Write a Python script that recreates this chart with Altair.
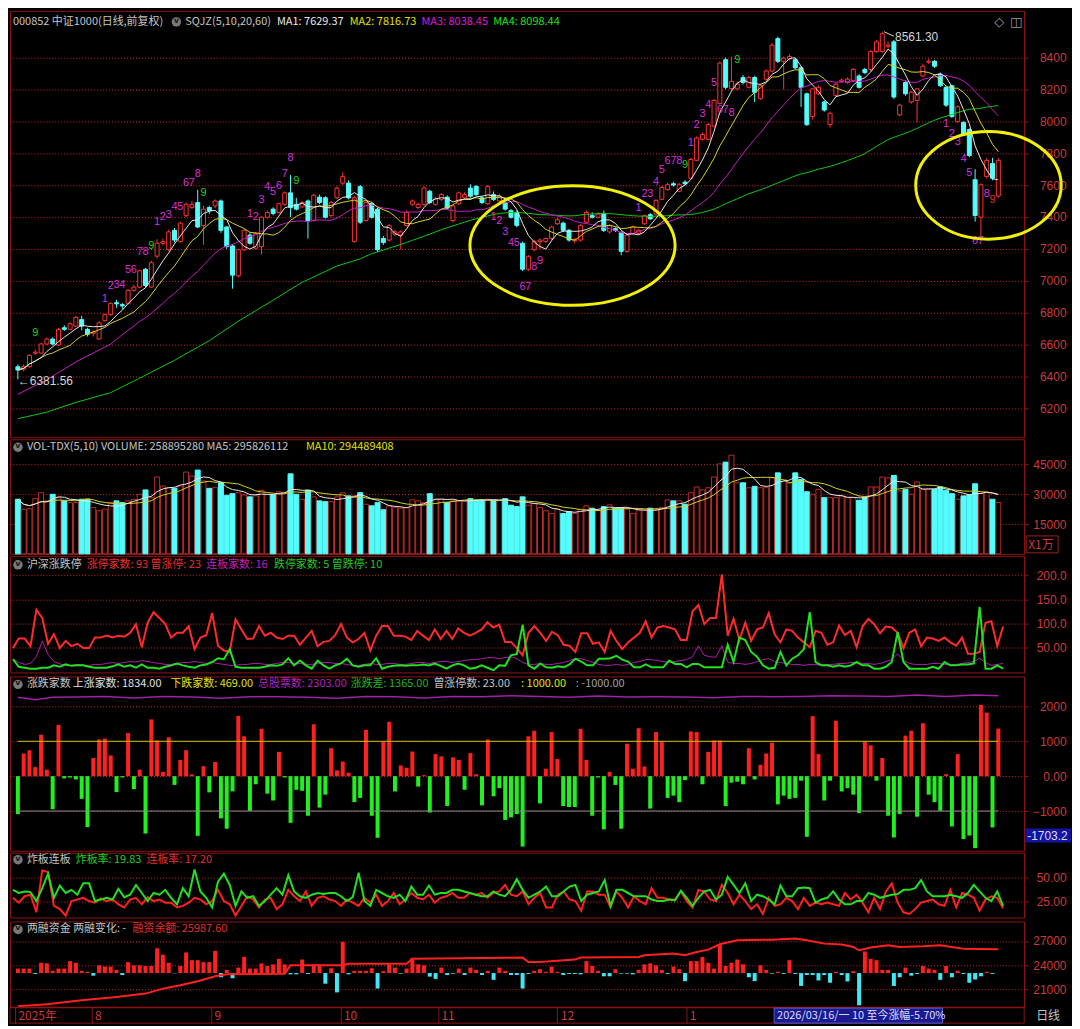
import altair as alt
import pandas as pd

# ---------------- 000852 中证1000 daily candles ----------------
opens = [
    6460,6445,6461,6545,6546,6603,6634,6597,6705,6695,
    6715,6756,6695,6670,6634,6750,6787,6862,6850,6858,
    6940,6960,7072,6960,7154,7235,7194,7316,7245,7408,
    7460,7490,7347,7459,7469,7500,7337,7218,7031,7194,
    7286,7204,7214,7398,7449,7428,7479,7551,7479,7463,
    7500,7377,7524,7520,7408,7520,7612,7612,7245,7590,
    7377,7485,7449,7265,7255,7292,7286,7347,7479,7459,
    7479,7561,7479,7510,7524,7377,7483,7520,7581,7591,
    7520,7483,7540,7500,7490,7439,7428,7235,7072,7194,
    7245,7245,7265,7357,7361,7316,7250,7255,7367,7408,
    7398,7422,7306,7326,7300,7184,7296,7296,7357,7414,
    7418,7510,7571,7608,7561,7618,7642,7755,7887,7887,
    7969,8111,8386,8205,8203,8274,8213,8274,8142,8264,
    8315,8518,8376,8390,8386,8335,8172,8030,8172,8121,
    7979,8162,8250,8243,8254,8284,8325,8325,8437,8437,
    8470,8498,8040,8243,8121,8131,8284,8370,8376,8294,
    8213,8223,7999,7993,7948,7633,7399,7653,7735,7531]
highs = [
    6475,6475,6540,6570,6610,6645,6645,6705,6720,6740,
    6780,6780,6705,6690,6745,6795,6865,6880,6860,6945,
    6975,7070,7080,7125,7260,7265,7320,7330,7370,7490,
    7500,7570,7470,7470,7510,7510,7340,7230,7200,7325,
    7300,7305,7405,7440,7460,7490,7560,7663,7520,7500,
    7510,7545,7540,7530,7500,7590,7680,7630,7530,7600,
    7500,7495,7460,7280,7355,7320,7315,7440,7510,7490,
    7590,7570,7525,7550,7535,7475,7560,7555,7605,7600,
    7530,7600,7560,7545,7500,7450,7440,7245,7160,7255,
    7265,7270,7345,7395,7370,7325,7270,7355,7440,7430,
    7430,7440,7355,7335,7310,7295,7345,7325,7415,7425,
    7510,7595,7615,7620,7615,7630,7770,7905,7930,7990,
    8140,8375,8400,8405,8250,8290,8285,8285,8235,8325,
    8490,8530,8405,8420,8395,8345,8180,8210,8225,8130,
    8060,8240,8270,8275,8335,8295,8335,8445,8510,8561.3,
    8500,8510,8110,8255,8190,8210,8360,8390,8385,8305,
    8220,8230,8100,8000,7955,7700,7610,7770,7770,7770]
lows = [
    6381.56,6430,6455,6535,6540,6595,6595,6590,6685,6690,
    6710,6690,6650,6650,6630,6745,6780,6830,6820,6850,
    6930,6955,6955,6955,7140,7220,7185,7240,7240,7400,
    7450,7330,7225,7420,7455,7300,7200,6950,7020,7185,
    7225,7195,7165,7390,7410,7420,7470,7398,7440,7455,
    7265,7370,7480,7390,7400,7510,7600,7510,7240,7355,
    7370,7390,7180,7225,7245,7280,7194,7340,7470,7450,
    7470,7480,7470,7500,7445,7365,7475,7510,7520,7530,
    7480,7475,7500,7490,7440,7390,7335,7060,7060,7185,
    7200,7235,7255,7350,7305,7245,7235,7245,7360,7390,
    7390,7305,7295,7305,7160,7175,7290,7290,7350,7380,
    7410,7505,7565,7590,7555,7600,7635,7750,7880,7880,
    7960,8105,8200,8195,8195,8230,8205,8120,8135,8255,
    8305,8365,8200,8380,8325,8090,7970,8010,8165,8060,
    7960,8155,8240,8235,8245,8205,8295,8315,8430,8430,
    8460,8140,8030,8160,8110,7995,8275,8360,8335,8215,
    8090,8020,7990,7910,7775,7370,7256,7640,7630,7520]
closes = [
    6440,6461,6532,6552,6603,6634,6603,6695,6695,6730,
    6770,6715,6664,6678,6736,6787,6858,6855,6842,6940,
    6960,7062,6970,7113,7235,7245,7306,7255,7361,7479,
    7479,7337,7449,7439,7500,7316,7214,7035,7194,7316,
    7235,7296,7398,7428,7422,7483,7551,7459,7449,7490,
    7377,7536,7490,7398,7490,7581,7653,7520,7520,7367,
    7490,7398,7194,7239,7347,7306,7306,7428,7500,7479,
    7581,7490,7514,7540,7455,7469,7551,7540,7530,7540,
    7490,7591,7510,7530,7449,7398,7347,7072,7153,7245,
    7255,7265,7337,7382,7316,7255,7258,7347,7428,7398,
    7418,7316,7347,7316,7184,7286,7337,7316,7408,7388,
    7504,7585,7602,7600,7602,7608,7760,7895,7917,7979,
    8131,8365,8213,8250,8233,8243,8274,8182,8223,8315,
    8477,8376,8396,8406,8335,8213,7979,8203,8213,8070,
    8050,8233,8258,8264,8325,8213,8305,8437,8498,8549,
    8478,8152,8101,8172,8182,8203,8345,8376,8345,8223,
    8101,8030,8091,7918,7785,7409,7602,7755,7643,7755]
volumes = [  # 成交量 (x1万)
    27500,22500,22800,27800,30800,26700,30000,28300,26700,25800,
    25800,27500,27500,23300,21700,22500,25800,26700,25800,26700,
    27500,30000,32200,28300,38700,34200,33300,33000,34200,41200,
    39200,42200,36700,33000,33300,35800,29500,30300,30800,29700,
    28700,29200,32000,30000,29700,31300,30800,40300,30000,27500,
    32000,28700,26700,26300,26300,28700,30800,29200,29200,30800,
    25000,24200,25800,22200,24200,23300,23000,23300,27200,26700,
    25800,30300,27500,27500,25800,26700,26700,26700,27800,27000,
    27000,27500,27000,27000,27800,24500,23800,28700,24500,25300,
    23300,21700,20300,22500,20300,21300,20300,22500,24200,23000,
    22000,23800,24700,23000,23300,22500,20300,22000,22000,23000,
    22500,23300,27200,26700,26700,25000,30800,33700,32200,33300,
    38700,45300,46200,49700,35800,35800,33300,34000,33300,33300,
    38300,40800,37500,35800,40800,37500,31300,30000,32500,28300,
    28300,28300,29200,28300,28300,27000,28300,33700,33700,38700,
    38300,39500,31700,32500,30000,36200,32500,32500,32500,33700,
    32000,30300,27500,29200,29700,35300,30300,30800,27500,25890]

# ---------------- 沪深涨跌停 ----------------
zt_counts = [  # 涨停家数
    48,68,68,52,128,111,57,77,48,63,
    52,57,48,48,70,70,74,70,74,72,
    80,98,50,101,123,111,98,70,80,80,
    94,46,70,75,121,53,43,40,108,87,
    67,68,94,74,80,70,67,74,74,55,
    70,84,52,61,63,75,98,70,60,67,
    80,43,74,94,94,74,74,72,65,84,
    74,65,87,67,84,67,89,80,74,80,
    87,102,91,97,61,61,48,33,80,94,
    80,63,82,75,55,53,40,79,79,57,
    60,40,84,63,46,60,70,80,104,70,
    91,94,91,87,65,65,125,138,98,111,
    111,202,74,109,65,101,63,87,91,121,
    77,60,87,84,70,60,50,84,80,55,
    60,95,75,84,50,93,109,98,79,93,
    91,80,48,80,87,52,70,68,63,70,
    60,53,70,36,36,40,101,104,52,93]
lb_counts = [  # 连板家数
    25,18,14,16,30,63,35,20,15,12,
    12,14,12,12,14,14,16,18,16,18,
    20,19,22,20,18,16,14,14,16,18,
    18,20,18,16,18,16,14,12,12,14,
    14,16,16,14,14,16,18,18,16,16,
    14,14,16,18,18,16,16,14,12,12,
    14,16,14,14,16,16,14,14,16,18,
    18,16,18,20,20,18,20,22,24,24,
    26,28,28,26,28,30,26,18,14,14,
    16,14,14,16,18,22,26,26,22,18,
    14,12,12,14,12,14,18,20,24,24,
    22,20,18,20,22,24,30,53,33,30,
    29,53,19,16,16,14,16,20,24,26,
    20,18,16,14,14,12,14,14,12,14,
    14,16,16,18,18,16,16,14,16,20,
    24,36,22,16,14,14,14,16,16,14,
    14,14,16,18,20,27,18,12,14,16]
dt_counts = [  # 跌停家数
    25,9,7,5,5,7,7,12,9,14,
    11,12,12,9,7,7,7,10,14,9,
    12,7,14,7,7,5,9,12,16,12,
    9,7,12,14,19,27,25,46,9,7,
    7,7,7,9,12,11,14,27,12,22,
    12,5,22,12,5,12,16,26,12,9,
    12,12,27,5,9,11,12,11,12,12,
    14,12,16,11,5,12,16,12,5,7,
    12,7,2,12,11,33,36,97,12,5,
    16,8,7,10,8,14,26,20,12,12,
    26,26,27,32,24,20,8,8,14,8,
    8,8,22,15,15,8,15,15,8,8,
    8,8,55,19,70,65,40,30,12,5,
    7,40,12,26,33,46,123,19,12,12,
    9,12,9,12,19,12,12,5,5,9,
    19,82,19,5,5,5,5,9,5,19,
    12,12,14,14,16,134,5,5,12,5]

# ---------------- 涨跌家数 ----------------
adv_dec = [  # 涨跌差
    -1088,651,744,260,1190,186,-949,1469,-65,-40,
    -93,-651,-1460,521,1051,1079,595,-456,-37,1237,
    -372,186,-1646,1628,1023,121,1116,-251,465,744,
    50,-1711,288,-465,409,-1209,-1507,-437,1730,1144,
    -995,-233,1358,-502,-698,698,-37,-1339,-391,-419,
    -1135,1488,-902,-530,800,167,419,100,-744,-623,
    1330,-1135,-1767,986,1562,-437,307,242,707,-298,
    28,-1042,632,567,-856,539,465,-391,660,56,
    -837,1051,-577,-344,-1256,-1181,-1088,-2018,1144,1302,
    -781,214,1265,493,-856,-884,-884,1358,465,-1135,
    -37,-1525,121,-251,-1507,930,214,1376,279,-930,
    1265,986,-623,-558,-744,-112,1283,1265,-233,698,
    1023,1023,-856,-186,-158,-233,800,-93,326,651,
    958,-809,-558,-651,-623,-130,-1739,1721,632,-698,
    -130,1590,-437,-344,-530,-1060,986,884,-130,521,
    -1135,-1758,-1088,1163,1302,-1163,1516,-530,-744,-995,
    56,-1442,632,-1804,-1703,-2065,2046,1823,-1470,1365]
total_idx = [0,3,6,10,15,20,25,30,35,40,45,50,55,60,65,70,75,80,85,90,
             95,100,105,110,115,120,125,130,135,140,145,150,155,160,165,169]
total_val = [2260,2195,2260,2270,2288,2241,2288,2270,2232,2279,2279,2260,2232,2288,2279,2241,2288,2279,2306,2288,
             2260,2297,2270,2279,2270,2251,2288,2279,2288,2306,2297,2288,2325,2288,2325,2303]

# ---------------- 炸板连板 ----------------
zb_rate = [  # 炸板率
    37.1,33.7,35.4,34.7,25.0,38.9,54.5,28.5,41.7,33.7,
    37.1,31.9,44.1,44.1,25.0,26.7,28.5,26.7,38.2,29.2,
    31.9,42.4,33.7,25.0,33.7,31.9,37.1,28.5,21.5,38.9,
    30.2,59.0,35.4,28.5,18.1,45.8,54.5,42.4,19.8,35.4,
    28.5,30.2,19.8,25.0,31.9,38.9,31.9,52.8,35.4,30.2,
    28.5,31.9,33.7,32.6,33.7,33.7,30.2,25.0,29.2,55.5,
    25.0,19.8,37.1,33.7,30.2,28.5,31.9,25.0,40.6,31.9,
    31.9,41.7,31.9,33.7,33.7,37.1,37.1,35.4,33.7,31.9,
    30.2,30.2,35.4,31.9,30.2,37.1,48.6,37.1,28.5,31.9,
    35.4,40.6,30.2,30.2,35.4,40.6,42.4,25.0,31.9,33.7,
    35.4,47.6,19.8,37.1,37.1,33.7,30.2,30.2,30.2,26.7,
    25.0,25.0,26.7,25.7,36.1,28.5,19.8,28.5,35.4,37.1,
    26.7,31.9,51.0,42.4,33.7,44.1,25.0,31.9,30.2,26.7,
    21.5,41.7,30.2,30.2,38.9,39.6,38.9,23.3,26.7,28.5,
    35.4,26.7,21.5,21.5,25.0,25.0,33.7,31.9,28.5,30.2,
    31.9,32.6,37.1,37.1,38.9,47.6,35.4,30.2,30.2,30.2,
    31.9,30.2,28.5,33.7,42.4,35.4,28.5,25.0,35.4,19.83]
lb_rate = [  # 连板率
    28.5,23.3,30.2,31.9,12.9,58.0,56.2,19.8,16.3,9.4,
    25.0,26.7,28.5,25.0,23.3,27.8,25.0,26.7,21.5,18.1,
    26.7,28.5,21.5,29.2,25.0,26.7,23.3,23.3,18.1,19.8,
    23.3,28.5,26.7,21.5,25.0,37.1,25.0,21.5,9.4,19.8,
    30.2,26.7,18.1,26.7,28.5,16.3,21.5,37.1,30.2,25.0,
    35.4,19.8,28.5,30.2,26.7,25.0,19.8,26.7,23.3,19.8,
    28.5,23.3,31.9,19.8,25.0,33.7,21.5,26.7,33.7,28.5,
    26.7,31.9,23.3,28.5,30.2,33.7,28.5,28.5,33.7,31.9,
    33.7,28.5,33.7,35.4,42.4,31.9,30.2,35.4,21.5,28.5,
    33.7,18.1,18.1,31.9,35.4,26.7,25.0,14.6,35.4,35.4,
    31.9,31.9,18.1,35.4,28.5,18.1,30.2,25.0,21.5,38.9,
    28.5,28.5,26.7,26.7,35.4,25.0,18.1,37.1,35.4,26.7,
    25.0,42.4,33.7,21.5,31.9,25.0,16.3,21.5,11.1,28.5,
    19.8,21.5,28.5,25.0,16.3,28.5,19.8,23.3,21.5,23.3,
    21.5,19.8,33.7,26.7,31.9,23.3,12.9,28.5,16.3,35.4,
    44.1,23.3,12.9,11.1,16.3,23.3,25.0,26.7,21.5,19.8,
    37.1,18.1,33.7,31.9,28.5,14.6,26.7,30.2,28.5,17.20]

# ---------------- 两融资金 ----------------
rz_change = [  # 两融变化
    56,56,56,-12,128,120,28,56,56,148,
    128,28,16,-32,96,80,80,40,-24,136,
    96,96,88,88,308,228,128,-4,88,256,
    160,160,136,136,276,-52,40,-64,68,200,
    56,56,120,88,108,176,108,-16,-16,168,
    -12,108,108,-132,60,-240,388,-16,28,28,
    28,60,-192,24,120,68,-8,56,188,108,
    96,-44,-72,68,-24,-8,56,-24,68,40,
    -24,28,-84,68,28,-24,-24,-192,-12,28,
    48,16,80,16,-24,-12,-12,-16,148,88,
    28,-40,-40,48,-8,-8,-16,40,108,120,
    96,40,-12,80,48,-100,148,148,200,128,
    56,360,88,128,168,108,-52,-100,96,40,
    -8,16,-12,160,-12,-160,-24,-24,-92,-24,
    -120,16,-24,-104,24,-400,268,176,160,40,
    40,-160,-52,68,-32,-12,88,56,40,-84,
    88,-52,28,-12,-120,-80,-40,16,-12,None]
rz_idx = [0,5,11,17,22,25,28,31,34,36,46,47,56,57,67,68,87,88,90,96,
          97,107,108,113,115,117,119,121,124,130,134,136,139,142,144,145,147,150,152,156,
          159,163,169]
rz_val = [18950,19190,19680,20100,20510,21120,21530,22030,22640,22890,22970,24000,24000,24200,24200,24820,24950,24410,24410,24700,
          24950,25030,25230,25440,25230,25640,25930,26590,27080,27160,27290,27080,26670,26550,26260,25850,26180,26470,26260,26340,
          26470,26050,25987.6]

# moving-average start segments (before a full window exists)
ma20_head_idx = [0, 5, 10, 16, 19]
ma20_head_val = [6288, 6379, 6491, 6603, 6690]
ma60_head_idx = [0, 5, 10, 16, 21, 27, 33, 38, 44, 49, 55, 59]
ma60_head_val = [6135, 6176, 6237, 6298, 6389, 6501, 6624, 6746, 6878, 6990, 7092, 7137]

# x-axis month separators
month_pos = [-0.5, 12.7, 33.3, 55.6, 72.4, 93.0, 115.2]
month_lab = ['2025年', '8', '9', '10', '11', '12', '1']

# SQJZ sequence labels
td_idx = [3,
          15, 16, 17, 18, 19, 20, 21, 22, 23,
          24, 25, 26, 27, 28, 29, 30, 31, 32,
          40, 41, 42, 43, 44, 45, 46, 47, 48,
          82, 83, 84, 85, 86, 87, 88, 89, 90,
          107, 108, 109, 110, 111, 112, 113, 114, 115,
          116, 117, 118, 119, 120, 121, 122, 123, 124,
          160, 161, 162, 163, 164, 165, 166, 167, 168]
td_txt = ['9',
          '1', '2', '3', '4', '5', '6', '7', '8', '9',
          '1', '2', '3', '4', '5', '6', '7', '8', '9',
          '1', '2', '3', '4', '5', '6', '7', '8', '9',
          '1', '2', '3', '4', '5', '6', '7', '8', '9',
          '1', '2', '3', '4', '5', '6', '7', '8', '9',
          '1', '2', '3', '4', '5', '6', '7', '8', '9',
          '1', '2', '3', '4', '5', '6', '7', '8', '9']
td_price = [6670,
            6888, 6966, 6970, 6970, 7066, 7066, 7180, 7180, 7220,
            7371, 7398, 7412, 7463, 7463, 7612, 7612, 7669, 7551,
            7418, 7398, 7504, 7585, 7555, 7592, 7667, 7771, 7626,
            7398, 7373, 7306, 7239, 7239, 6960, 6960, 7086, 7123,
            7459, 7544, 7544, 7616, 7697, 7748, 7748, 7748, 7724,
            7862, 7978, 8046, 8101, 8237, 8070, 8070, 8050, 8383,
            7985, 7918, 7867, 7765, 7673, 7246, 7246, 7545, 7505]
td_col = ['g',
          'm', 'm', 'm', 'm', 'm', 'm', 'm', 'm', 'g',
          'm', 'm', 'm', 'm', 'm', 'm', 'm', 'm', 'g',
          'm', 'm', 'm', 'm', 'm', 'm', 'm', 'm', 'g',
          'm', 'm', 'm', 'm', 'm', 'm', 'm', 'm', 'm',
          'm', 'm', 'm', 'm', 'm', 'm', 'm', 'm', 'g',
          'm', 'm', 'm', 'm', 'm', 'm', 'm', 'm', 'g',
          'm', 'm', 'm', 'm', 'm', 'm', 'm', 'm', 'r']

# annotation anchors (data coordinates)
ellipse_a = (95.6, 7221)
ellipse_b = (167.3, 7598)
high_mark = (149.3, 8561.30)
low_mark = (0.0, 6381.56)

# ---------------- tables ----------------
N = len(closes)
df = pd.DataFrame({
    'idx': list(range(N)), 'open': opens, 'high': highs, 'low': lows, 'close': closes,
    'vol': volumes, 'zt': zt_counts, 'lb': lb_counts, 'dt': dt_counts, 'zdc': adv_dec,
    'zb': zb_rate, 'lbr': lb_rate, 'rzb': rz_change})
ONE = pd.DataFrame({'k': [0]})

# ---------------- style ----------------
W = 1018
HM, HV, HZ, HD, HB, HR = 428, 115, 117, 175, 65, 86
CJK = 'Noto Sans CJK SC'
NUM = 'Liberation Sans'
RED = '#ff3232'
CYAN = '#54fcfc'
GRAY = '#c4c4c4'
YEL = '#e0e000'
MAG = '#d81cd8'
GRN = '#1ee01e'
BORDER = '#8c1414'
AXLAB = '#cc3a3a'
GRID = '#e83030'

XS = alt.Scale(domain=[-0.5, 172.6], nice=False, zero=False)
UP = 'datum.close >= datum.open'


def X(axis=None):
    return alt.X('idx:Q', scale=XS, axis=axis)


def raxis(values, fmt=None, expr=None):
    kw = dict(orient='right', values=values, grid=True, gridColor=GRID, gridDash=[1, 2],
              gridWidth=1, gridOpacity=0.9, domainColor=BORDER, tickColor=BORDER, tickSize=4,
              labelColor=AXLAB, labelFont=NUM, labelFontSize=12, labelAlign='right',
              labelPadding=38, labelBaseline='middle', title=None)
    if fmt is not None:
        kw['format'] = fmt
    if expr is not None:
        kw['labelExpr'] = expr
    return alt.Axis(**kw)


def yfac(scale, axis):
    def Y(field):
        return alt.Y(field, scale=scale, axis=axis)
    return Y


def text(s, x, y, color, size=11, font=CJK, align='left'):
    return alt.Chart(ONE).mark_text(text=s, align=align, baseline='middle', font=font,
                                    fontSize=size, color=color).encode(x=alt.value(x), y=alt.value(y))


def icon(x, y):
    return [alt.Chart(ONE).mark_point(shape='circle', filled=True, size=90, color='#7a7a7a', opacity=1)
            .encode(x=alt.value(x), y=alt.value(y)),
            alt.Chart(ONE).mark_text(text='v', fontSize=8, fontWeight='bold', color='#151515', font='DejaVu Sans')
            .encode(x=alt.value(x), y=alt.value(y - 1))]


def header(segs, y, with_icon=True):
    out = icon(8, y) if with_icon else []
    for s, x, c in segs:
        out.append(text(s, x, y, c))
    return out


# ---------------- panel 1: candles ----------------
YM = alt.Scale(domain=[6018, 8692], nice=False, zero=False)
Ym = yfac(YM, raxis(list(range(6200, 8401, 200)), fmt='d'))
wick = alt.Chart(df).mark_rule(strokeWidth=1).encode(
    x=X(), y=Ym('low:Q'), y2='high:Q',
    stroke=alt.condition(UP, alt.value(RED), alt.value(CYAN)))
body = alt.Chart(df).mark_bar(size=4, strokeWidth=1).encode(
    x=X(), y=Ym('open:Q'), y2='close:Q',
    fill=alt.condition(UP, alt.value('#000000'), alt.value(CYAN)),
    stroke=alt.condition(UP, alt.value(RED), alt.value(CYAN)))

srt = [alt.SortField('idx', order='ascending')]
ma_base = (alt.Chart(df)
           .transform_window(ma5='mean(close)', frame=[-4, 0], sort=srt)
           .transform_window(ma10='mean(close)', frame=[-9, 0], sort=srt)
           .transform_window(ma20='mean(close)', frame=[-19, 0], sort=srt)
           .transform_window(ma60='mean(close)', frame=[-59, 0], sort=srt))
ma60 = ma_base.transform_filter('datum.idx >= 59').mark_line(color='#10c810', strokeWidth=1).encode(
    x=X(), y=Ym('ma60:Q'))
ma60h = alt.Chart(pd.DataFrame({'idx': ma60_head_idx, 'v': ma60_head_val})).mark_line(
    color='#10c810', strokeWidth=1).encode(x=X(), y=Ym('v:Q'))
ma20 = ma_base.transform_filter('datum.idx >= 19').mark_line(color='#c81cc8', strokeWidth=1).encode(
    x=X(), y=Ym('ma20:Q'))
ma20h = alt.Chart(pd.DataFrame({'idx': ma20_head_idx, 'v': ma20_head_val})).mark_line(
    color='#c81cc8', strokeWidth=1).encode(x=X(), y=Ym('v:Q'))
ma10 = ma_base.mark_line(color='#d4d41c', strokeWidth=1).encode(x=X(), y=Ym('ma10:Q'))
ma5 = ma_base.mark_line(color='#e6e6e6', strokeWidth=1).encode(x=X(), y=Ym('ma5:Q'))

td_df = pd.DataFrame({'idx': td_idx, 't': td_txt, 'p': td_price, 'c': td_col})
td_layers = []
for code, col in [('m', '#d830d8'), ('g', '#20d020'), ('r', '#e03030')]:
    td_layers.append(alt.Chart(td_df[td_df['c'] == code]).mark_text(
        fontSize=11, font=NUM, color=col, baseline='middle').encode(
        x=X(), y=Ym('p:Q'), text='t:N'))

arrow_df = pd.DataFrame({'idx': [high_mark[0]], 'idx2': [high_mark[0] + 1.7],
                         'p': [high_mark[1]], 'p2': [high_mark[1] - 28]})
hi_arrow = alt.Chart(arrow_df).mark_rule(color='#d4d4d4', strokeWidth=1).encode(
    x=X(), x2='idx2:Q', y=Ym('p:Q'), y2='p2:Q')
hi_lab = alt.Chart(pd.DataFrame({'idx': [high_mark[0] + 1.9], 'p': [high_mark[1] - 33]})).mark_text(
    text='8561.30', align='left', baseline='middle', font=NUM, fontSize=12, color='#d4d4d4').encode(
    x=X(), y=Ym('p:Q'))
lo_lab = alt.Chart(pd.DataFrame({'idx': [low_mark[0]], 'p': [low_mark[1] - 12]})).mark_text(
    text='←6381.56', align='left', baseline='middle', font=NUM, fontSize=12, color='#d4d4d4').encode(
    x=X(), y=Ym('p:Q'))

P1 = "M -1 0 C -1 -0.322 -0.552 -0.583 0 -0.583 C 0.552 -0.583 1 -0.322 1 0 C 1 0.322 0.552 0.583 0 0.583 C -0.552 0.583 -1 0.322 -1 0 Z"
P2 = "M -1 0 C -1 -0.408 -0.552 -0.74 0 -0.74 C 0.552 -0.74 1 -0.408 1 0 C 1 0.408 0.552 0.74 0 0.74 C -0.552 0.74 -1 0.408 -1 0 Z"
ell1 = alt.Chart(pd.DataFrame({'idx': [ellipse_a[0]], 'p': [ellipse_a[1]]})).mark_point(
    shape=P1, size=42436, filled=False, color='#f2f200', strokeWidth=3, opacity=1).encode(
    x=X(), y=Ym('p:Q'))
ell2 = alt.Chart(pd.DataFrame({'idx': [ellipse_b[0]], 'p': [ellipse_b[1]]})).mark_point(
    shape=P2, size=21316, filled=False, color='#f2f200', strokeWidth=3, opacity=1).encode(
    x=X(), y=Ym('p:Q'))

main_hdr = header([('000852 中证1000(日线,前复权)', 3, GRAY),
                   ('SQJZ(5,10,20,60)', 176, GRAY),
                   ('MA1: 7629.37', 268, '#e8e8e8'),
                   ('MA2: 7816.73', 341, YEL),
                   ('MA3: 8038.45', 413, MAG),
                   ('MA4: 8098.44', 485, GRN)], 11, with_icon=False)
main_hdr += icon(167, 11)
main_hdr += [text('◇', W - 25, 11, '#9a9a9a', size=13, font='DejaVu Sans', align='center'),
             text('◫', W - 8, 11, '#9a9a9a', size=13, font='DejaVu Sans', align='center')]

panel1 = alt.layer(wick, body, ma60, ma60h, ma20, ma20h, ma10, ma5, *td_layers,
                   hi_arrow, hi_lab, lo_lab, ell1, ell2, *main_hdr).properties(width=W, height=HM)

# ---------------- panel 2: volume ----------------
YV = alt.Scale(domain=[0, 57700], nice=False, zero=True)
Yv = yfac(YV, raxis([15000, 30000, 45000], fmt='d'))
vbar = alt.Chart(df).mark_bar(size=5, strokeWidth=1).encode(
    x=X(), y=Yv('vol:Q'),
    fill=alt.condition(UP, alt.value('#000000'), alt.value(CYAN)),
    stroke=alt.condition(UP, alt.value('#c02a2a'), alt.value(CYAN)))
vbase = (alt.Chart(df)
         .transform_window(v5='mean(vol)', frame=[-4, 0], sort=srt)
         .transform_window(v10='mean(vol)', frame=[-9, 0], sort=srt))
v10 = vbase.mark_line(color='#d4d41c', strokeWidth=1).encode(x=X(), y=Yv('v10:Q'))
v5 = vbase.mark_line(color='#e6e6e6', strokeWidth=1).encode(x=X(), y=Yv('v5:Q'))
unit_box = alt.Chart(ONE).mark_rect(fill='#000000', stroke='#a02020', strokeWidth=1).encode(
    x=alt.value(W + 2), x2=alt.value(W + 34), y=alt.value(HV - 18), y2=alt.value(HV - 1))
unit_txt = text('X1万', W + 4, HV - 9, AXLAB, size=12)
vol_hdr = header([('VOL-TDX(5,10) VOLUME: 258895280  MA5: 295826112', 17, GRAY),
                  ('MA10: 294489408', 297, YEL)], 8)
panel2 = alt.layer(vbar, v10, v5, unit_box, unit_txt, *vol_hdr).properties(width=W, height=HV)

# ---------------- panel 3: 沪深涨跌停 ----------------
YZ = alt.Scale(domain=[-2.7, 240.5], nice=False, zero=False)
zt_expr = "datum.value >= 100 ? format(datum.value, '.1f') : format(datum.value, '.2f')"
Yz = yfac(YZ, raxis([50, 100, 150, 200], expr=zt_expr))
l_lb = alt.Chart(df).mark_line(color='#b01cb0', strokeWidth=1).encode(x=X(), y=Yz('lb:Q'))
l_zt = alt.Chart(df).mark_line(color='#ff2a2a', strokeWidth=2).encode(x=X(), y=Yz('zt:Q'))
l_dt = alt.Chart(df).mark_line(color='#22e022', strokeWidth=2).encode(x=X(), y=Yz('dt:Q'))
zt_hdr = header([('沪深涨跌停', 17, GRAY),
                 ('涨停家数: 93  曾涨停: 23', 77, '#e83030'),
                 ('连板家数: 16', 197, '#c020c0'),
                 ('跌停家数: 5  曾跌停: 10', 265, '#20c820')], 9)
panel3 = alt.layer(l_lb, l_zt, l_dt, *zt_hdr).properties(width=W, height=HZ)

# ---------------- panel 4: 涨跌家数 ----------------
YD = alt.Scale(domain=[-2139, 2861], nice=False, zero=False)
zd_expr = "datum.value == 0 ? '0.00' : format(datum.value, 'd')"
Yd = yfac(YD, raxis([-1000, 0, 1000, 2000], expr=zd_expr))
zbar = alt.Chart(df).mark_bar(size=4).encode(
    x=X(), y=Yd('zdc:Q'),
    fill=alt.condition('datum.zdc >= 0', alt.value('#ff2020'), alt.value('#20f020')))
tot_line = alt.Chart(pd.DataFrame({'idx': total_idx, 'v': total_val})).mark_line(
    color='#a020a8', strokeWidth=1.5).encode(x=X(), y=Yd('v:Q'))
r_hi = alt.Chart(pd.DataFrame({'idx': [0], 'idx2': [N - 1], 'v': [1000]})).mark_rule(
    color='#c8c800', strokeWidth=1).encode(x=X(), x2='idx2:Q', y=Yd('v:Q'))
r_lo = alt.Chart(pd.DataFrame({'idx': [0], 'idx2': [N - 1], 'v': [-1000]})).mark_rule(
    color='#8a8a8a', strokeWidth=1).encode(x=X(), x2='idx2:Q', y=Yd('v:Q'))
cur_df = pd.DataFrame({'v': [-1703.2], 'v1': [-1703.2 + 200], 'v2': [-1703.2 - 200]})
cur_box = alt.Chart(cur_df).mark_rect(fill='#1414a0').encode(
    x=alt.value(W + 1), x2=alt.value(W + 47), y=Yd('v1:Q'), y2='v2:Q')
cur_txt = alt.Chart(cur_df).mark_text(text='-1703.2', align='left', baseline='middle', font=NUM,
                                      fontSize=12, color='#d8dcff').encode(
    x=alt.value(W + 3), y=Yd('v:Q'))
zd_hdr = header([('涨跌家数', 17, GRAY),
                 ('上涨家数: 1834.00', 63, '#e0e0e0'),
                 ('下跌家数: 469.00', 161, YEL),
                 ('总股票数: 2303.00', 249, '#b020c0'),
                 ('涨跌差: 1365.00', 342, '#20b020'),
                 ('曾涨停数: 23.00', 425, GRAY),
                 (': 1000.00', 513, YEL),
                 (': -1000.00', 568, '#a0a0a0')], 8)
panel4 = alt.layer(zbar, tot_line, r_hi, r_lo, cur_box, cur_txt, *zd_hdr).properties(width=W, height=HD)

# ---------------- panel 5: 炸板连板 ----------------
YB = alt.Scale(domain=[7.3, 77.1], nice=False, zero=False)
Yb = yfac(YB, raxis([25, 50], fmt='.2f'))
l_lbr = alt.Chart(df).mark_line(color='#ff2020', strokeWidth=2).encode(x=X(), y=Yb('lbr:Q'))
l_zb = alt.Chart(df).mark_line(color='#22e022', strokeWidth=2).encode(x=X(), y=Yb('zb:Q'))
zb_hdr = header([('炸板连板', 17, GRAY),
                 ('炸板率: 19.83', 66, '#20d020'),
                 ('连板率: 17.20', 137, '#e03030')], 7)
panel5 = alt.layer(l_lbr, l_zb, *zb_hdr).properties(width=W, height=HB)

# ---------------- panel 6: 两融资金 + x axis ----------------
expr = "'" + month_lab[-1] + "'"
for i in range(len(month_pos) - 2, -1, -1):
    mid = (month_pos[i] + month_pos[i + 1]) / 2
    expr = "datum.value < %s ? '%s' : (%s)" % (mid, month_lab[i], expr)
x_axis = alt.Axis(values=month_pos, labelExpr=expr, orient='bottom', tickSize=16, tickColor=BORDER,
                  domainColor=BORDER, labelColor=AXLAB, labelFont=CJK, labelFontSize=12,
                  labelAlign='left', labelBaseline='middle', labelPadding=-8, labelOffset=3,
                  labelFlush=False, labelOverlap=False, labelBound=False, grid=False, title=None)
YR = alt.Scale(domain=[18840, 29400], nice=False, zero=False)
YRB = alt.Scale(domain=[-423, 640], nice=False, zero=False)
rbar = alt.Chart(df).mark_bar(size=4).encode(
    x=X(x_axis), y=alt.Y('rzb:Q', scale=YRB, axis=None),
    fill=alt.condition('datum.rzb >= 0', alt.value('#ff2020'), alt.value('#40e8f4')))
rline = alt.Chart(pd.DataFrame({'idx': rz_idx, 'v': rz_val})).mark_line(color='#ff2020', strokeWidth=2).encode(
    x=X(x_axis), y=alt.Y('v:Q', scale=YR, axis=raxis([21000, 24000, 27000], fmt='d')))
row_box = alt.Chart(ONE).mark_rect(fill='#000000', fillOpacity=0, stroke=BORDER, strokeWidth=1).encode(
    x=alt.value(0), x2=alt.value(W), y=alt.value(HR), y2=alt.value(HR + 16))
stat_box = alt.Chart(ONE).mark_rect(fill='#1a1a90', stroke='#5a5ad0', strokeWidth=1).encode(
    x=alt.value(767), x2=alt.value(936), y=alt.value(HR + 1), y2=alt.value(HR + 16))
stat_txt = text('2026/03/16/一  10 至今涨幅-5.70%', 770, HR + 8.5, '#dcdcff', size=11)
day_txt = text('日线', W + 12, HR + 8.5, GRAY, size=12)
rz_hdr = header([('两融资金  两融变化: -', 17, GRAY),
                 ('融资余额: 25987.60', 123, '#e03030')], 8)
panel6 = alt.layer(rbar, rline, row_box, stat_box, stat_txt, day_txt, *rz_hdr).resolve_scale(
    y='independent').properties(width=W, height=HR)

chart = alt.vconcat(panel1, panel2, panel3, panel4, panel5, panel6, spacing=0).properties(
    padding={'left': 0, 'top': 0, 'right': 0, 'bottom': 0}
).configure(background='#000000').configure_view(stroke=BORDER, strokeWidth=1)

chart.save("out.html", embed_options={"renderer": "svg", "actions": False})
